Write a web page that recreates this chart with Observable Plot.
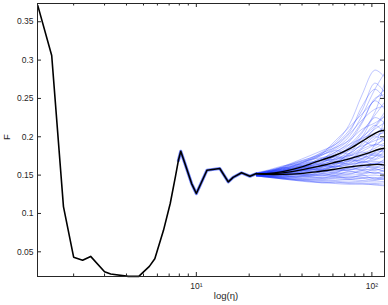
<!DOCTYPE html>
<html>
<head>
<meta charset="utf-8">
<script src="https://cdn.jsdelivr.net/npm/d3@7"></script>
<script src="https://cdn.jsdelivr.net/npm/@observablehq/plot@0.6"></script>
<style>
  html, body { margin: 0; padding: 0; background: #fff; }
  #chart { width: 388px; height: 305px; }
</style>
</head>
<body>
<div id="chart"></div>
<script>
// Main (common) curve
const eta = [1.25, 1.5, 1.75, 2, 2.25, 2.5, 3, 3.25, 4.1, 4.7, 5.4, 5.8, 6.5, 7.1, 7.6, 7.9, 8.15, 8.6, 9.4, 10, 11.5, 13.6, 15.2, 16.2, 18.1, 20.2, 22];
const F   = [0.371, 0.306, 0.109, 0.043, 0.039, 0.044, 0.024, 0.021, 0.018, 0.018, 0.031, 0.041, 0.078, 0.113, 0.148, 0.169, 0.181, 0.1655, 0.139, 0.126, 0.1564, 0.1586, 0.1411, 0.147, 0.153, 0.1486, 0.152];

// Three black summary curves after the split
const tailEta  = [22, 25, 31, 39, 48, 60, 75, 93, 110, 118];
const upperF   = [0.152, 0.152, 0.1545, 0.160, 0.1672, 0.1746, 0.1846, 0.1977, 0.207, 0.2085];
const middleF  = [0.152, 0.1515, 0.153, 0.1565, 0.1607, 0.166, 0.1716, 0.178, 0.1837, 0.185];
const lowerF   = [0.152, 0.151, 0.151, 0.152, 0.1542, 0.1573, 0.1607, 0.163, 0.164, 0.163];

// Ensemble members (blue), read at these eta positions
const ensEta = [22, 26, 31, 37, 44, 52, 62, 74, 88, 104, 118];
const members = [
  [0.153, 0.156, 0.160, 0.166, 0.172, 0.180, 0.192, 0.215, 0.255, 0.287, 0.278],
  [0.152, 0.155, 0.159, 0.163, 0.170, 0.176, 0.185, 0.200, 0.228, 0.262, 0.283],
  [0.151, 0.154, 0.161, 0.168, 0.175, 0.182, 0.190, 0.205, 0.240, 0.262, 0.250],
  [0.153, 0.157, 0.162, 0.165, 0.169, 0.178, 0.195, 0.212, 0.230, 0.248, 0.262],
  [0.150, 0.153, 0.156, 0.160, 0.166, 0.172, 0.180, 0.193, 0.218, 0.250, 0.255],
  [0.152, 0.154, 0.158, 0.162, 0.168, 0.176, 0.187, 0.203, 0.222, 0.236, 0.240],
  [0.151, 0.155, 0.157, 0.161, 0.164, 0.170, 0.178, 0.189, 0.207, 0.228, 0.245],
  [0.152, 0.156, 0.159, 0.164, 0.171, 0.179, 0.186, 0.195, 0.210, 0.218, 0.226],
  [0.150, 0.152, 0.155, 0.158, 0.162, 0.167, 0.175, 0.186, 0.200, 0.214, 0.232],
  [0.151, 0.153, 0.156, 0.160, 0.165, 0.171, 0.180, 0.190, 0.198, 0.205, 0.212],
  [0.152, 0.155, 0.160, 0.166, 0.170, 0.173, 0.176, 0.184, 0.196, 0.210, 0.218],
  [0.150, 0.152, 0.154, 0.157, 0.161, 0.166, 0.172, 0.178, 0.190, 0.202, 0.205],
  [0.151, 0.154, 0.158, 0.163, 0.167, 0.169, 0.174, 0.182, 0.188, 0.195, 0.199],
  [0.152, 0.153, 0.155, 0.159, 0.163, 0.168, 0.171, 0.176, 0.186, 0.198, 0.208],
  [0.150, 0.151, 0.153, 0.156, 0.159, 0.164, 0.170, 0.175, 0.181, 0.190, 0.196],
  [0.151, 0.153, 0.157, 0.160, 0.162, 0.165, 0.168, 0.174, 0.184, 0.190, 0.188],
  [0.152, 0.154, 0.156, 0.158, 0.161, 0.163, 0.167, 0.172, 0.178, 0.185, 0.192],
  [0.150, 0.152, 0.153, 0.155, 0.158, 0.162, 0.166, 0.171, 0.176, 0.179, 0.183],
  [0.151, 0.153, 0.155, 0.157, 0.160, 0.161, 0.164, 0.169, 0.175, 0.182, 0.180],
  [0.152, 0.152, 0.154, 0.156, 0.157, 0.160, 0.165, 0.168, 0.170, 0.174, 0.178],
  [0.150, 0.151, 0.152, 0.154, 0.156, 0.159, 0.162, 0.166, 0.172, 0.176, 0.172],
  [0.151, 0.152, 0.154, 0.155, 0.157, 0.158, 0.161, 0.163, 0.167, 0.170, 0.175],
  [0.150, 0.150, 0.151, 0.153, 0.155, 0.157, 0.160, 0.164, 0.166, 0.168, 0.166],
  [0.151, 0.151, 0.152, 0.153, 0.154, 0.156, 0.158, 0.161, 0.164, 0.165, 0.169],
  [0.149, 0.150, 0.151, 0.152, 0.153, 0.155, 0.157, 0.159, 0.162, 0.166, 0.163],
  [0.150, 0.150, 0.150, 0.151, 0.152, 0.154, 0.156, 0.157, 0.160, 0.161, 0.158],
  [0.150, 0.149, 0.149, 0.150, 0.151, 0.152, 0.154, 0.157, 0.158, 0.156, 0.160],
  [0.149, 0.149, 0.148, 0.149, 0.150, 0.151, 0.152, 0.154, 0.156, 0.158, 0.155],
  [0.150, 0.149, 0.148, 0.148, 0.149, 0.150, 0.150, 0.152, 0.154, 0.153, 0.152],
  [0.149, 0.148, 0.147, 0.147, 0.148, 0.149, 0.149, 0.150, 0.151, 0.154, 0.150],
  [0.150, 0.148, 0.147, 0.146, 0.146, 0.147, 0.148, 0.147, 0.149, 0.150, 0.148],
  [0.149, 0.148, 0.146, 0.146, 0.145, 0.145, 0.146, 0.148, 0.147, 0.146, 0.147],
  [0.149, 0.147, 0.146, 0.145, 0.144, 0.144, 0.145, 0.144, 0.146, 0.147, 0.144],
  [0.150, 0.148, 0.145, 0.144, 0.144, 0.143, 0.143, 0.144, 0.143, 0.144, 0.145],
  [0.149, 0.147, 0.146, 0.144, 0.143, 0.142, 0.142, 0.141, 0.142, 0.141, 0.142],
  [0.149, 0.147, 0.145, 0.143, 0.142, 0.141, 0.140, 0.140, 0.140, 0.139, 0.140],
  [0.150, 0.148, 0.146, 0.144, 0.142, 0.140, 0.141, 0.139, 0.138, 0.138, 0.137],
  [0.149, 0.147, 0.145, 0.143, 0.141, 0.140, 0.139, 0.138, 0.139, 0.137, 0.136],
  [0.151, 0.152, 0.155, 0.159, 0.164, 0.170, 0.176, 0.186, 0.205, 0.232, 0.270],
  [0.152, 0.156, 0.161, 0.167, 0.172, 0.177, 0.183, 0.196, 0.220, 0.247, 0.236],
  [0.151, 0.154, 0.156, 0.162, 0.160, 0.166, 0.174, 0.170, 0.185, 0.200, 0.195],
  [0.150, 0.151, 0.155, 0.153, 0.158, 0.156, 0.163, 0.172, 0.168, 0.180, 0.190],
  [0.152, 0.155, 0.158, 0.157, 0.163, 0.170, 0.168, 0.178, 0.194, 0.188, 0.200],
  [0.150, 0.150, 0.149, 0.152, 0.150, 0.155, 0.153, 0.160, 0.157, 0.165, 0.160],
  [0.151, 0.153, 0.152, 0.156, 0.162, 0.160, 0.167, 0.165, 0.175, 0.171, 0.182],
  [0.149, 0.148, 0.150, 0.148, 0.151, 0.149, 0.153, 0.151, 0.156, 0.152, 0.157],
  [0.152, 0.156, 0.160, 0.158, 0.165, 0.172, 0.170, 0.182, 0.200, 0.225, 0.218],
  [0.151, 0.153, 0.154, 0.158, 0.157, 0.163, 0.161, 0.168, 0.180, 0.176, 0.186],
  [0.150, 0.149, 0.147, 0.149, 0.147, 0.146, 0.149, 0.146, 0.150, 0.145, 0.149],
  [0.151, 0.152, 0.156, 0.155, 0.160, 0.158, 0.165, 0.176, 0.172, 0.190, 0.222],
  [0.150, 0.152, 0.151, 0.155, 0.159, 0.157, 0.162, 0.160, 0.168, 0.164, 0.171],
  [0.152, 0.154, 0.159, 0.164, 0.162, 0.170, 0.182, 0.178, 0.192, 0.212, 0.228],
  [0.149, 0.150, 0.149, 0.151, 0.149, 0.152, 0.150, 0.155, 0.152, 0.158, 0.154],
  [0.151, 0.153, 0.155, 0.154, 0.158, 0.163, 0.160, 0.170, 0.166, 0.174, 0.185],
  [0.150, 0.148, 0.149, 0.147, 0.148, 0.146, 0.147, 0.145, 0.146, 0.143, 0.146],
  [0.152, 0.155, 0.157, 0.161, 0.166, 0.164, 0.172, 0.185, 0.198, 0.215, 0.205],
  [0.150, 0.151, 0.153, 0.152, 0.155, 0.153, 0.158, 0.156, 0.161, 0.159, 0.165],
  [0.151, 0.154, 0.158, 0.163, 0.170, 0.178, 0.190, 0.208, 0.235, 0.270, 0.258],
  [0.150, 0.150, 0.152, 0.151, 0.154, 0.157, 0.155, 0.159, 0.163, 0.160, 0.168],
  [0.151, 0.152, 0.154, 0.157, 0.156, 0.161, 0.166, 0.164, 0.171, 0.178, 0.174]
];

// Axes
const xDomain = [1.245, 118];
const yDomain = [0.0178, 0.3738];
const xMajorTicks = [10, 100];
const xTickLabels = ["10\u00b9", "10\u00b2"];
const xMinorTicks = [2, 3, 4, 5, 6, 7, 8, 9, 20, 30, 40, 50, 60, 70, 80, 90];
const yTicks = [0.05, 0.1, 0.15, 0.2, 0.25, 0.3, 0.35];
const yTickLabels = ["0.05", "0.1", "0.15", "0.2", "0.25", "0.3", "0.35"];
const xLabel = "log(\u03b7)";
const yLabel = "F";

// Build tables
const mainRows = eta.map((x, i) => ({x, y: F[i]}));
const haloRows = mainRows.filter(d => d.x >= 7.9);
const tails = [upperF, middleF, lowerF];
const tailRows = tails.flatMap((s, k) => s.map((y, i) => ({x: tailEta[i], y, k})));
const ensRows = members.flatMap((s, k) => s.map((y, i) => ({x: ensEta[i], y, k})));

const W = 388, H = 305;
const mL = 37, mR = 4, mT = 3, mB = 29;
const plotH = H - mT - mB, plotW = W - mL - mR;
const major = 4, minor = 2.5;
const ink = "#262626";

const chart = Plot.plot({
  width: W, height: H,
  marginLeft: mL, marginRight: mR, marginTop: mT, marginBottom: mB,
  style: {fontFamily: "'Liberation Sans', Arial, Helvetica, sans-serif", background: "#fff", color: ink},
  x: {type: "log", domain: xDomain},
  y: {domain: yDomain},
  marks: [
    // blue halo under the common part
    Plot.line(haloRows, {x: "x", y: "y", stroke: "#3350ff", strokeWidth: 3.1, strokeOpacity: 0.7}),
    // ensemble
    Plot.line(ensRows, {x: "x", y: "y", z: "k", stroke: "#1a33ff", strokeWidth: 0.7, strokeOpacity: 0.4, curve: "catmull-rom"}),
    // main black curve
    Plot.line(mainRows, {x: "x", y: "y", stroke: "#000", strokeWidth: 1.6}),
    Plot.line(tailRows, {x: "x", y: "y", z: "k", stroke: "#000", strokeWidth: 1.4, curve: "catmull-rom"}),
    // inward ticks (MATLAB box)
    Plot.ruleX(xMajorTicks, {x: d => d, insetTop: plotH - major, stroke: ink}),
    Plot.ruleX(xMajorTicks, {x: d => d, insetBottom: plotH - major, stroke: ink}),
    Plot.ruleX(xMinorTicks, {x: d => d, insetTop: plotH - minor, stroke: ink}),
    Plot.ruleX(xMinorTicks, {x: d => d, insetBottom: plotH - minor, stroke: ink}),
    Plot.ruleY(yTicks, {y: d => d, insetRight: plotW - major, stroke: ink}),
    Plot.ruleY(yTicks, {y: d => d, insetLeft: plotW - major, stroke: ink}),
    Plot.frame({stroke: ink, strokeWidth: 1}),
    // tick labels
    Plot.axisX(xMajorTicks, {tickSize: 0, tickPadding: 6, fontSize: 8.5, label: null,
      tickFormat: d => xTickLabels[xMajorTicks.indexOf(d)]}),
    Plot.axisY(yTicks, {tickSize: 0, tickPadding: 4, fontSize: 8.5, label: null,
      tickFormat: d => yTickLabels[yTicks.indexOf(d)]}),
    // axis titles
    Plot.text([xLabel], {frameAnchor: "bottom", text: d => d, dx: 15, dy: 22, fontSize: 9.5, fill: ink}),
    Plot.text([yLabel], {frameAnchor: "left", text: d => d, dx: -31, rotate: -90, fontSize: 9.5, fill: ink})
  ]
});
document.getElementById("chart").appendChild(chart);
</script>
</body>
</html>
